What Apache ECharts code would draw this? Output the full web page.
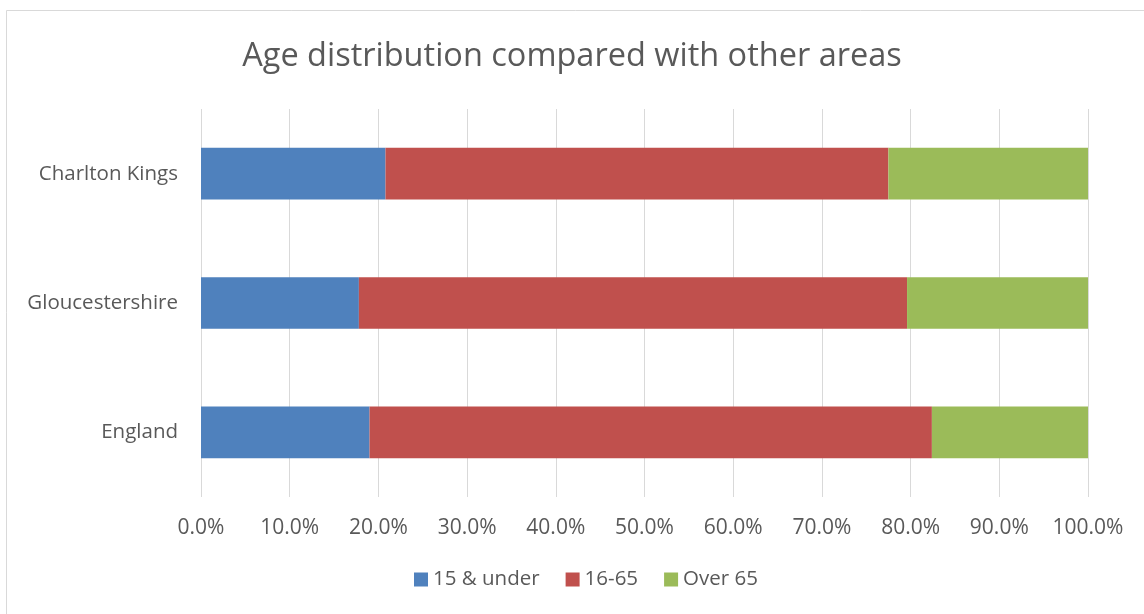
<!DOCTYPE html>
<html>
<head>
<meta charset="utf-8">
<script src="https://cdn.jsdelivr.net/npm/echarts@6/dist/echarts.min.js"></script>
<style>
html,body{margin:0;padding:0;background:#fff;}
#c{width:1144px;height:614px;}
</style>
</head>
<body>
<div id="c"></div>
<script>
const categories = ["Charlton Kings", "Gloucestershire", "England"];
const under15 = [20.8, 17.8, 19.0];
const age16to65 = [56.7, 61.8, 63.4];
const over65 = [22.5, 20.4, 17.6];
const seriesNames = ["15 & under", "16-65", "Over 65"];
const xTicks = [0, 10, 20, 30, 40, 50, 60, 70, 80, 90, 100];

const chart = echarts.init(document.getElementById('c'), null, {renderer: 'canvas'});
const font = "'Open Sans', 'Noto Sans', sans-serif";
const colors = ['#4f81bd', '#c0504d', '#9bbb59'];
const data = [under15, age16to65, over65];

chart.setOption({
  animation: false,
  backgroundColor: '#fff',
  title: {
    text: 'Age distribution compared with other areas',
    left: 'center',
    top: 35,
    textStyle: {fontFamily: font, fontSize: 32.5, fontWeight: 'normal', color: '#595959'}
  },
  graphic: [{
    type: 'rect',
    shape: {x: 6.5, y: 10.5, width: 1200, height: 700},
    style: {fill: 'none', stroke: '#d9d9d9', lineWidth: 1},
    silent: true
  }],
  legend: {
    bottom: 19,
    left: 409,
    itemWidth: 14,
    itemHeight: 14,
    itemGap: 26,
    icon: 'rect',
    textStyle: {fontFamily: font, fontSize: 20.5, color: '#595959'},
    data: seriesNames
  },
  grid: {left: 201, right: 56, top: 109, bottom: 117, containLabel: false},
  xAxis: {
    type: 'value',
    min: xTicks[0],
    max: xTicks[xTicks.length - 1],
    interval: 10,
    axisLine: {show: false},
    axisTick: {show: false},
    splitLine: {lineStyle: {color: '#d9d9d9', width: 1}},
    axisLabel: {
      margin: 21,
      fontFamily: font, fontSize: 21, color: '#595959',
      formatter: v => v.toFixed(1) + '%'
    }
  },
  yAxis: {
    type: 'category',
    data: categories,
    inverse: true,
    axisLine: {show: false},
    axisTick: {show: false},
    axisLabel: {margin: 23, fontFamily: font, fontSize: 20.5, color: '#595959'}
  },
  series: seriesNames.map((n, i) => ({
    name: n,
    type: 'bar',
    stack: 'total',
    barWidth: '40%',
    itemStyle: {color: colors[i]},
    data: data[i]
  }))
});
</script>
</body>
</html>
